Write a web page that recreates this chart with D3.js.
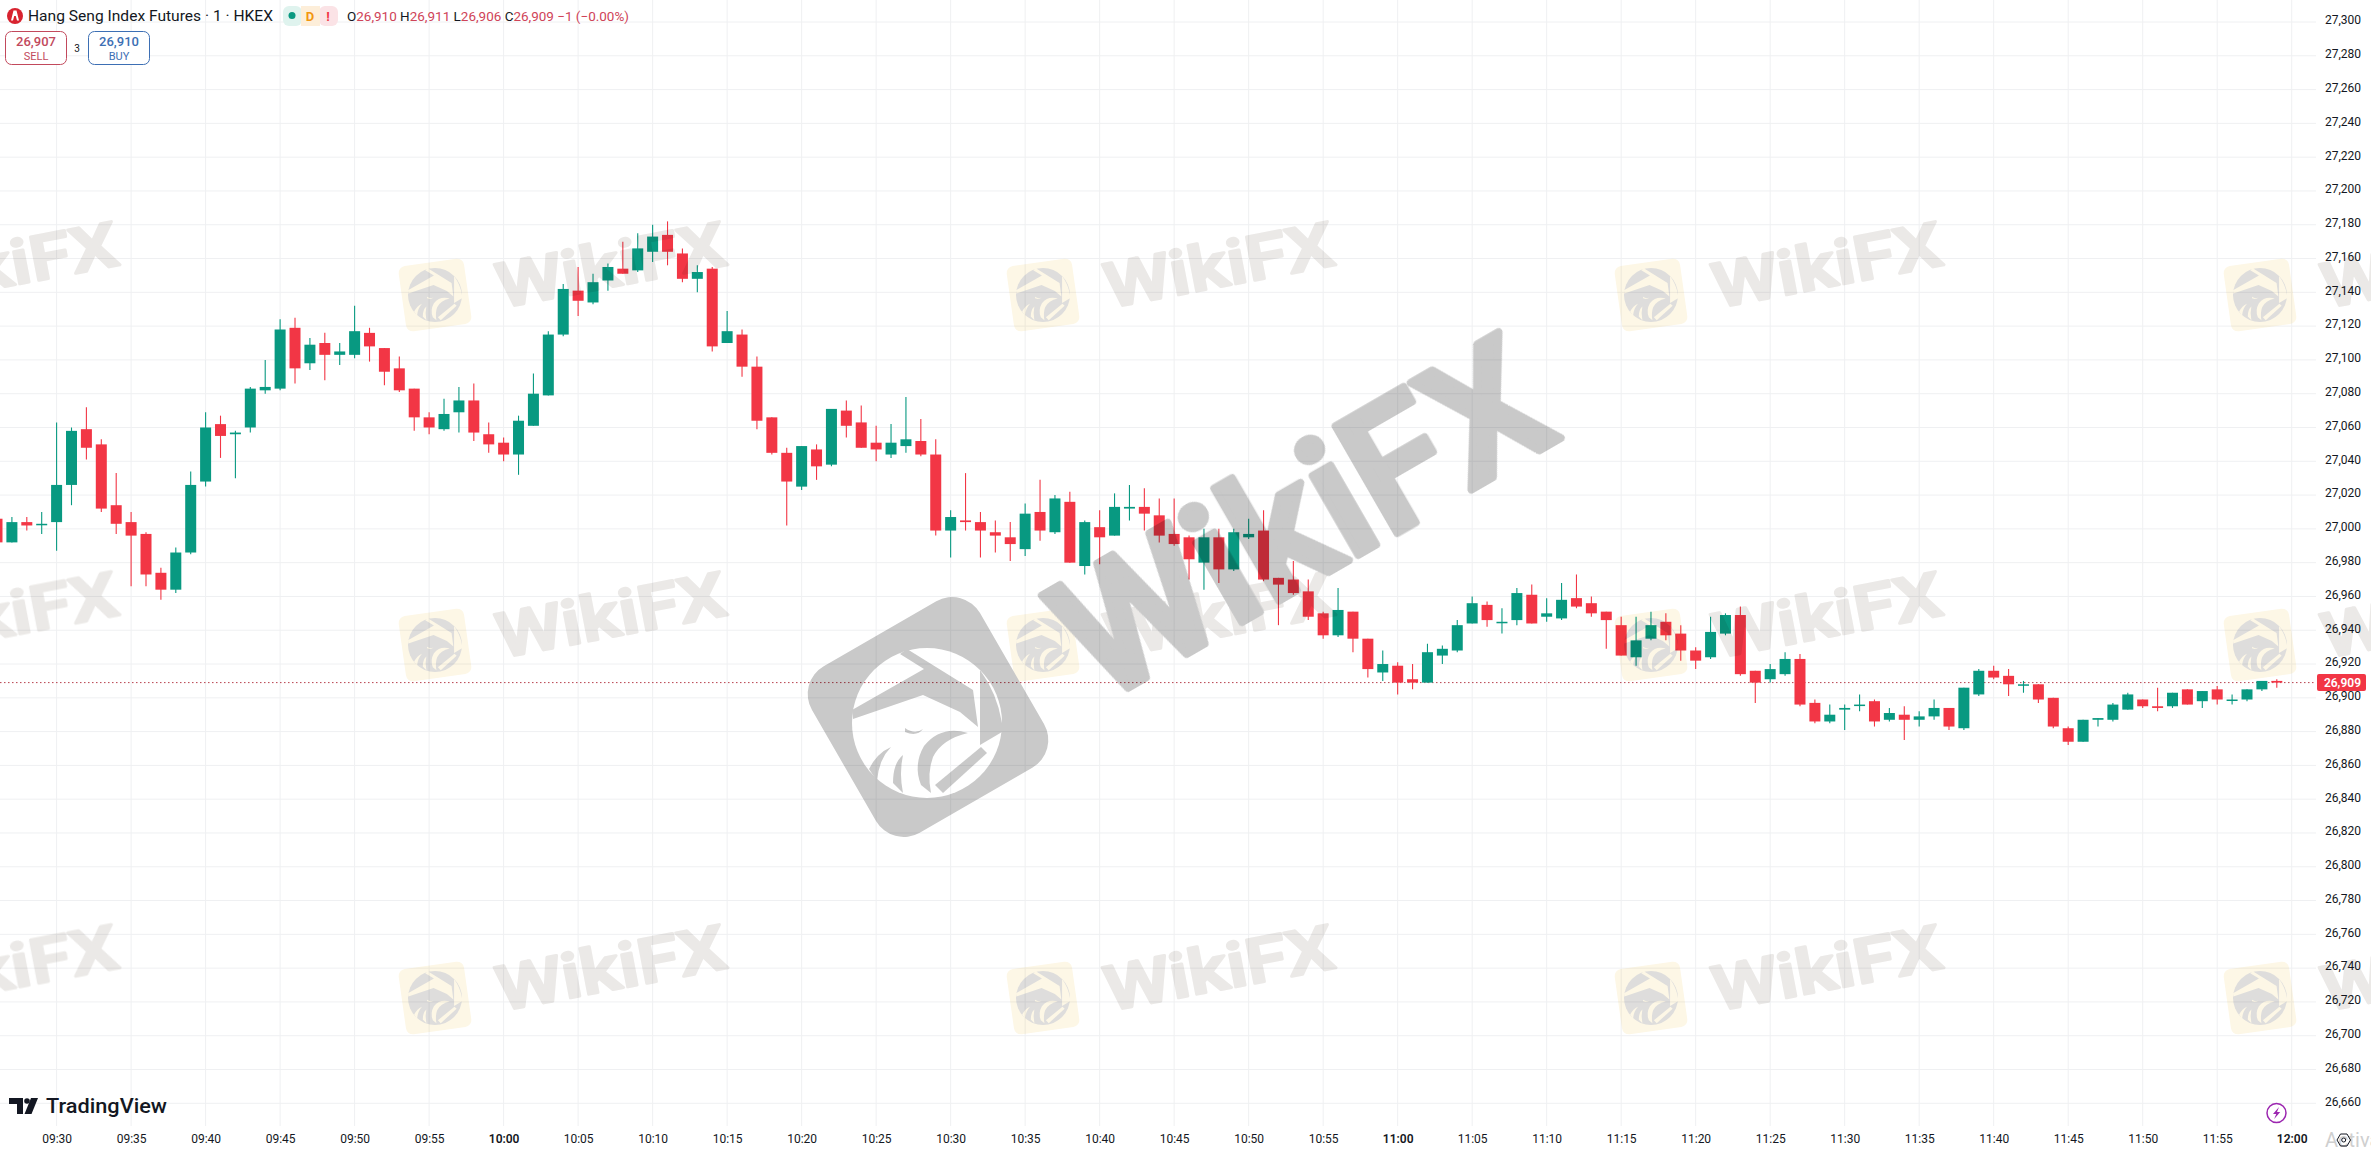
<!DOCTYPE html>
<html>
<head>
<meta charset="utf-8">
<script src="https://cdn.jsdelivr.net/npm/d3@7"></script>
<style>
  html, body { margin: 0; padding: 0; background: #fff; overflow: hidden; }
  svg { display: block; font-family: Roboto, sans-serif; }
</style>
</head>
<body>
<div id="chart"></div>
<script>
// bars run one per minute, first one sits 4 minutes before the 09:30 tick
const firstBarMinute = -4;
const opens = [
  27006,26992,27004,27003,27004,27026,27059,27050,27014,27004,
  26997,26974,26964,26986,27028,27062,27056,27060,27082,27083,
  27119,27098,27110,27103,27103,27116,27107,27095,27083,27066,
  27059,27069,27076,27056,27051,27044,27061,27079,27115,27141,
  27134,27147,27154,27153,27164,27174,27163,27148,27154,27110,
  27115,27096,27066,27045,27025,27047,27038,27070,27063,27051,
  27044,27049,27052,27044,26999,27005,27004,26998,26995,26988,
  27010,26998,27016,26978,27001,26996,27012,27013,27008,26997,
  26995,26980,26995,26976,26995,26999,26971,26970,26963,26950,
  26937,26951,26935,26915,26919,26911,26909,26925,26928,26944,
  26955,26945,26946,26961,26948,26947,26959,26956,26951,26943,
  26924,26935,26945,26938,26928,26924,26938,26949,26916,26911,
  26914,26923,26897,26886,26893,26896,26898,26887,26890,26887,
  26889,26894,26882,26902,26916,26913,26908,26908,26900,26882,
  26874,26887,26887,26893,26899,26895,26895,26905,26898,26905,
  26899,26899,26905,26910];
const highs = [
  27008,27007,27007,27010,27063,27060,27072,27053,27033,27010,
  26998,26977,26989,27034,27069,27067,27058,27084,27100,27124,
  27125,27113,27116,27110,27132,27119,27107,27102,27083,27069,
  27077,27084,27086,27063,27054,27067,27092,27117,27145,27155,
  27151,27157,27170,27175,27180,27182,27166,27156,27155,27129,
  27118,27102,27066,27048,27049,27050,27071,27076,27073,27061,
  27062,27078,27065,27053,27011,27033,27010,27005,27004,27015,
  27029,27020,27022,27005,27011,27021,27026,27024,27018,27018,
  26996,27000,27000,27000,27006,27011,26971,26981,26970,26951,
  26965,26951,26935,26928,26921,26920,26932,26931,26946,26960,
  26957,26953,26965,26967,26959,26968,26973,26960,26951,26948,
  26948,26951,26950,26943,26930,26948,26950,26954,26916,26920,
  26927,26926,26899,26896,26896,26902,26899,26894,26895,26892,
  26899,26894,26906,26917,26919,26917,26910,26908,26900,26883,
  26887,26888,26897,26903,26899,26906,26903,26905,26904,26907,
  26902,26905,26910,26911];
const lows = [
  26990,26992,26999,26997,26987,27014,27041,27010,26997,26966,
  26966,26958,26962,26985,27025,27042,27030,27057,27080,27082,
  27086,27094,27088,27097,27101,27099,27085,27081,27058,27056,
  27058,27057,27052,27045,27040,27032,27061,27079,27114,27126,
  27133,27141,27151,27152,27158,27156,27146,27140,27105,27110,
  27090,27059,27044,27002,27023,27029,27037,27054,27048,27040,
  27042,27045,27043,26996,26983,26999,26983,26986,26981,26984,
  26993,26997,26980,26973,26979,26996,27005,26999,26992,26990,
  26970,26964,26968,26975,26994,26969,26943,26961,26946,26935,
  26936,26927,26912,26910,26902,26905,26909,26920,26927,26944,
  26942,26938,26943,26944,26945,26946,26953,26948,26929,26925,
  26919,26934,26934,26922,26917,26923,26937,26913,26897,26909,
  26913,26895,26885,26885,26881,26892,26883,26886,26875,26883,
  26887,26881,26881,26901,26911,26901,26903,26897,26882,26872,
  26874,26883,26886,26893,26894,26892,26894,26896,26894,26896,
  26896,26898,26904,26906];
const closes = [
  26992,27004,27002,27003,27026,27058,27048,27012,27003,26996,
  26973,26964,26986,27026,27060,27055,27057,27083,27084,27118,
  27095,27109,27103,27105,27117,27108,27093,27082,27066,27060,
  27068,27076,27057,27050,27044,27064,27080,27115,27142,27135,
  27146,27155,27151,27166,27173,27164,27148,27152,27108,27117,
  27096,27064,27045,27028,27049,27037,27071,27061,27048,27047,
  27051,27053,27044,26999,27007,27004,26999,26996,26991,27009,
  26999,27018,26980,27004,26995,27013,27013,27009,26996,26991,
  26982,26995,26976,26998,26997,26970,26967,26962,26948,26937,
  26952,26935,26917,26920,26909,26909,26927,26929,26943,26956,
  26946,26945,26962,26944,26950,26958,26954,26950,26946,26925,
  26934,26943,26937,26928,26922,26939,26949,26914,26909,26917,
  26923,26896,26886,26890,26894,26896,26886,26891,26887,26889,
  26894,26883,26906,26916,26912,26908,26908,26899,26883,26874,
  26887,26888,26896,26902,26895,26894,26903,26896,26904,26899,
  26899,26905,26910,26909];

const timeLabels = ["09:30","09:35","09:40","09:45","09:50","09:55","10:00","10:05","10:10","10:15",
  "10:20","10:25","10:30","10:35","10:40","10:45","10:50","10:55","11:00","11:05","11:10","11:15",
  "11:20","11:25","11:30","11:35","11:40","11:45","11:50","11:55","12:00"];
const priceTicks = [27300,27280,27260,27240,27220,27200,27180,27160,27140,27120,27100,27080,27060,
  27040,27020,27000,26980,26960,26940,26920,26900,26880,26860,26840,26820,26800,26780,26760,26740,
  26720,26700,26680,26660];
const lastPrice = 26909;

const width = 2371, height = 1151;
const plotRight = 2316, plotBottom = 1126;
const green = "#089981", red = "#f23645";

const svg = d3.select("#chart")
  .append("svg")
    .attr("width", width)
    .attr("height", height)
    .attr("viewBox", `0 0 ${width} ${height}`);

const xScale = d3.scaleLinear().domain([0, 150]).range([56.6, 2291.7]);
const yScale = d3.scaleLinear().domain([26660, 27300]).range([1103.3, 22]);
const tickMinute = (label) => {
  const [h, m] = label.split(":").map(Number);
  return (h - 9) * 60 + m - 30;
};

const bars = opens.map((o, i) => ({
  minute: firstBarMinute + i, open: o, high: highs[i], low: lows[i], close: closes[i]
}));

// grid
svg.append("g").attr("class", "grid-h")
  .selectAll("line").data(priceTicks).join("line")
    .attr("x1", 0).attr("x2", plotRight)
    .attr("y1", d => yScale(d)).attr("y2", d => yScale(d))
    .attr("stroke", "#eff0f2").attr("stroke-width", 1);
svg.append("g").attr("class", "grid-v")
  .selectAll("line").data(timeLabels).join("line")
    .attr("x1", d => xScale(tickMinute(d))).attr("x2", d => xScale(tickMinute(d)))
    .attr("y1", 0).attr("y2", plotBottom)
    .attr("stroke", "#eff0f2").attr("stroke-width", 1);

// last price line
svg.append("line")
  .attr("x1", 0).attr("x2", plotRight)
  .attr("y1", yScale(lastPrice)).attr("y2", yScale(lastPrice))
  .attr("stroke", "#b8404e").attr("stroke-width", 1).attr("stroke-dasharray", "1.5 2.5");

// candles
const candle = svg.append("g").attr("class", "candles")
  .selectAll("g").data(bars).join("g")
    .attr("fill", d => d.close >= d.open ? green : red)
    .attr("stroke", d => d.close >= d.open ? green : red);
candle.append("line")
  .attr("x1", d => xScale(d.minute)).attr("x2", d => xScale(d.minute))
  .attr("y1", d => yScale(d.high)).attr("y2", d => yScale(d.low))
  .attr("stroke-width", 1.1);
candle.append("rect")
  .attr("x", d => xScale(d.minute) - 5.5)
  .attr("width", 11)
  .attr("y", d => yScale(Math.max(d.open, d.close)))
  .attr("height", d => Math.max(1.5, Math.abs(yScale(d.open) - yScale(d.close))))
  .attr("stroke", "none");

// axes
const priceAxis = d3.axisRight(yScale)
  .tickValues(priceTicks).tickFormat(d3.format(",")).tickSize(0).tickPadding(0);
svg.append("g").attr("class", "price-axis")
  .attr("transform", "translate(2361,-2)")
  .call(priceAxis)
  .call(g => g.select(".domain").remove())
  .call(g => g.selectAll("text")
    .attr("text-anchor", "end")
    .attr("fill", "#131722")
    .style("font-size", "12px")
    .style("font-family", "Roboto, sans-serif"));

const timeAxis = d3.axisBottom(xScale)
  .tickValues(timeLabels.map(tickMinute))
  .tickFormat((d, i) => timeLabels[i]).tickSize(0).tickPadding(0);
svg.append("g").attr("class", "time-axis")
  .attr("transform", "translate(0,1134)")
  .call(timeAxis)
  .call(g => g.select(".domain").remove())
  .call(g => g.selectAll("text")
    .attr("fill", "#131722")
    .style("font-size", "12px")
    .style("font-family", "Roboto, sans-serif")
    .style("font-weight", (d, i) => timeLabels[i].endsWith(":00") ? 600 : 400));

// last price tag
svg.append("rect")
  .attr("x", 2317).attr("y", yScale(lastPrice) - 8.5).attr("width", 49).attr("height", 17).attr("rx", 2)
  .attr("fill", red);
svg.append("text").text(d3.format(",")(lastPrice))
  .attr("x", 2361).attr("y", yScale(lastPrice) + 4.5)
  .attr("text-anchor", "end").attr("fill", "#fff")
  .style("font-size", "12px").style("font-weight", 600);

// header legend
const header = svg.append("g").attr("class", "header");
header.append("circle").attr("cx", 15).attr("cy", 16).attr("r", 8).attr("fill", "#d8232f");
header.append("path").attr("d", "M13.5 10.5h3l2.5 10h-2l-1.2-4.5h-1.6l-1.2 4.5h-2z").attr("fill", "#fff");
header.append("text").text("Hang Seng Index Futures · 1 · HKEX")
  .attr("x", 28).attr("y", 21).attr("fill", "#131722")
  .attr("textLength", 245).attr("lengthAdjust", "spacingAndGlyphs")
  .style("font-size", "14.5px");

const pills = [["#dff3ee", 283], ["#fbe3e6", 319], ["#fdeed9", 301]];
header.selectAll("rect.pill").data(pills).join("rect")
  .attr("class", "pill").attr("x", d => d[1]).attr("y", 6).attr("width", 19).attr("height", 20)
  .attr("rx", d => d[1] === 301 ? 0 : 6)
  .attr("fill", d => d[0]);
header.append("circle").attr("cx", 292).attr("cy", 15.5).attr("r", 3.5).attr("fill", green);
header.append("text").text("D").attr("x", 310).attr("y", 20.5).attr("text-anchor", "middle")
  .attr("fill", "#f2960f").style("font-size", "13px").style("font-weight", 700);
header.append("text").text("!").attr("x", 328).attr("y", 20.5).attr("text-anchor", "middle")
  .attr("fill", red).style("font-size", "13px").style("font-weight", 700);

const ohlc = header.append("text").attr("x", 347).attr("y", 20.5)
  .attr("textLength", 282).attr("lengthAdjust", "spacingAndGlyphs")
  .style("font-size", "13px");
[["O", "#131722"], ["26,910 ", "#cf4358"], ["H", "#131722"], ["26,911 ", "#cf4358"], ["L", "#131722"],
 ["26,906 ", "#cf4358"], ["C", "#131722"], ["26,909 ", "#cf4358"], ["−1 (−0.00%)", "#cf4358"]]
  .forEach(d => ohlc.append("tspan").text(d[0]).attr("fill", d[1]));

// sell / buy buttons
const buttons = [
  { x: 5.5, price: "26,907", name: "SELL", color: "#c2495c" },
  { x: 88.5, price: "26,910", name: "BUY", color: "#3d6fb4" }
];
const button = header.selectAll("g.button").data(buttons).join("g").attr("class", "button");
button.append("rect")
  .attr("x", d => d.x).attr("y", 31.5).attr("width", 61).attr("height", 33).attr("rx", 6)
  .attr("fill", "#fff").attr("stroke", d => d.color).attr("stroke-width", 1);
button.append("text").text(d => d.price)
  .attr("x", d => d.x + 30.5).attr("y", 46).attr("text-anchor", "middle").attr("fill", d => d.color)
  .style("font-size", "13px").style("font-weight", 500);
button.append("text").text(d => d.name)
  .attr("x", d => d.x + 30.5).attr("y", 59.5).attr("text-anchor", "middle").attr("fill", d => d.color)
  .style("font-size", "11px");
header.append("text").text("3").attr("x", 77).attr("y", 52).attr("text-anchor", "middle")
  .attr("fill", "#131722").style("font-size", "10px");

// TradingView mark, bottom left
const tv = svg.append("g").attr("class", "tv-logo").attr("fill", "#131722");
tv.append("path").attr("d", "M9 1098h14v16h-6v-10h-8z");
tv.append("circle").attr("cx", 27).attr("cy", 1101).attr("r", 2.8);
tv.append("path").attr("d", "M31 1098h7l-6.5 16h-7z");
tv.append("text").text("TradingView").attr("x", 46).attr("y", 1113)
  .attr("textLength", 121).attr("lengthAdjust", "spacingAndGlyphs")
  .style("font-size", "21px").style("font-weight", 500);

// corner icons
svg.append("circle").attr("cx", 2276.5).attr("cy", 1113).attr("r", 9.5)
  .attr("fill", "#fff").attr("stroke", "#9c27b0").attr("stroke-width", 1.5);
svg.append("path").attr("d", "M2279 1107l-6 7h3.2l-2 5 6-7h-3.2z").attr("fill", "#9c27b0");
svg.append("text").text("Activa").attr("x", 2325).attr("y", 1147)
  .attr("fill", "#cfcfcf").style("font-size", "20px");
svg.append("path").attr("d", "M2337 1140l3.5-6h6.5l3.5 6-3.5 6h-6.5z")
  .attr("fill", "none").attr("stroke", "#131722").attr("stroke-width", 1);
svg.append("circle").attr("cx", 2343.7).attr("cy", 1140).attr("r", 2)
  .attr("fill", "none").attr("stroke", "#131722").attr("stroke-width", 1);

// watermark layer, sits over everything and darkens what is below
const mark = svg.append("g").attr("class", "watermark").style("mix-blend-mode", "multiply");

const drawEagle = (g, disc, cut) => {
  // shapes are laid out for a disc of radius 75 centred on 0,0
  g.append("circle").attr("r", 75).attr("fill", disc);
  const shapes = [
    "M-75 -13L-3 -54L-27 -69L-20 -74L46 -33L51 4L33 -11L-4 -28L-74 -4Z",
    "M53 -53Q70 -30 75 0L75 9L53 22Z",
    "M-3 23Q14 2 41 10Q15 16 6 34Q0 50 4 70L-6 62Q-14 42 -3 23Z",
    "M-22 5Q-12 12 -4 6Q-10 14 -22 9Z",
    "M-58 46Q-50 30 -36 24Q-48 36 -50 58Z",
    "M-34 60Q-34 40 -24 32Q-28 50 -24 70Z",
    "M8 62L54 24L60 30L16 70Z"
  ];
  g.selectAll("path").data(shapes).join("path").attr("d", d => d).attr("fill", cut);
};

// tiled small marks
const tileX = [-173, 435, 1043, 1651, 2260];
const tileY = [295, 645, 998];
tileY.forEach(ty => tileX.forEach(tx => {
  const tile = mark.append("g").attr("transform", `translate(${tx},${ty})`);
  tile.append("rect")
    .attr("x", -33).attr("y", -33).attr("width", 66).attr("height", 66).attr("rx", 7)
    .attr("transform", "rotate(-8)")
    .attr("fill", "#fdf7e6");
  drawEagle(tile.append("g").attr("transform", "scale(0.36)"), "#dedddc", "#fdf7e6");
  mark.append("text").text("WikiFX")
    .attr("transform", `translate(${tx + 66},${ty + 13}) rotate(-10.8)`)
    .attr("textLength", 232).attr("lengthAdjust", "spacingAndGlyphs")
    .attr("fill", "#ebe9e7").attr("stroke", "#ebe9e7").attr("stroke-width", 3).attr("stroke-linejoin", "round")
    .style("font-size", "62px").style("font-weight", 500);
}));

// big centre mark
const bigLogo = mark.append("g").attr("transform", "translate(928,717) rotate(-30)");
bigLogo.append("rect")
  .attr("x", -97).attr("y", -96).attr("width", 194).attr("height", 192).attr("rx", 32)
  .attr("fill", "#c9c9c9");
drawEagle(mark.append("g").attr("transform", "translate(927,723)"), "#fff", "#c9c9c9");
mark.append("text").text("WikiFX")
  .attr("transform", "translate(1100,704) rotate(-30)")
  .attr("textLength", 535).attr("lengthAdjust", "spacingAndGlyphs")
  .attr("fill", "#c9c9c9").attr("stroke", "#c9c9c9").attr("stroke-width", 8).attr("stroke-linejoin", "round")
  .style("font-size", "172px").style("font-weight", 500);
</script>
</body>
</html>
